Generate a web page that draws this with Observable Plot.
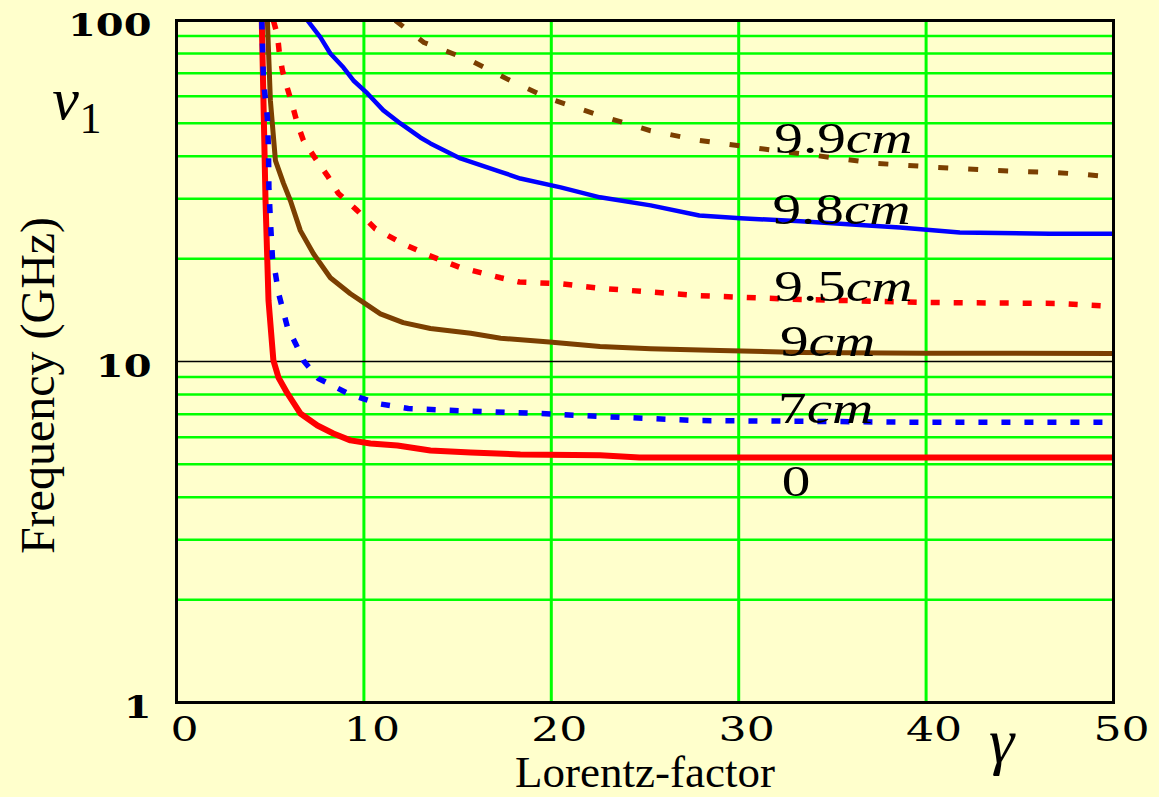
<!DOCTYPE html>
<html><head><meta charset="utf-8">
<script src="https://cdn.jsdelivr.net/npm/d3@7"></script>
<script src="https://cdn.jsdelivr.net/npm/@observablehq/plot@0.6"></script>
<style>
html,body{margin:0;padding:0;background:#FFFFCC;}
#chart svg{display:block;}
</style></head><body><div id="chart"></div>
<script>
// ---- axis ticks & grid ----
const xTicks = [0, 10, 20, 30, 40, 50];
const yTicks = [1, 10, 100];
const xGrid = [10, 20, 30, 40];
const yGrid = [2, 3, 4, 5, 6, 7, 8, 9, 20, 30, 40, 50, 60, 70, 80, 90];
const yDecade = [10];

// ---- curves: Lorentz factor (gamma) vs frequency nu1 (GHz) ----
// "0"
const gamma0 = [4.55, 4.64, 4.75, 4.91, 5.17, 5.44, 5.92, 6.61, 7.52, 8.37, 9.28, 10.35, 11.79, 13.55, 15.7, 18.35, 22.6, 24.7, 30, 40, 50];
const freq0  = [100, 58.3, 29.6, 15.1, 10.07, 8.98, 8.06, 7.04, 6.49, 6.15, 5.87, 5.75, 5.67, 5.48, 5.41, 5.34, 5.31, 5.23, 5.23, 5.23, 5.23];
// "7cm"
const gamma7 = [4.55, 4.64, 4.85, 4.91, 4.93, 5.01, 5.12, 5.28, 5.44, 5.92, 6.35, 6.77, 7.57, 9.17, 10.72, 12.37, 14.6, 19.4, 22.6, 27.9, 33.3, 40, 50];
const freq7  = [100, 66.7, 51.9, 41.6, 32.4, 25.9, 20.2, 18.1, 15.9, 12.6, 11.3, 10.07, 8.92, 8.05, 7.53, 7.28, 7.19, 7.04, 6.90, 6.71, 6.68, 6.63, 6.63];
// "9cm"
const gamma9 = [4.85, 5.01, 5.28, 5.71, 6.08, 6.61, 7.31, 8.21, 9.28, 9.97, 10.88, 12.1, 13.55, 15.7, 17.3, 19.9, 22.6, 25.3, 29, 33.3, 40, 50];
const freq9  = [100, 58.3, 38.8, 33.3, 29.6, 24.2, 20.7, 17.6, 15.8, 14.9, 13.8, 13.0, 12.5, 12.1, 11.7, 11.4, 11.07, 10.9, 10.77, 10.63, 10.58, 10.55];
// "9.5cm"
const gamma95 = [5.17, 5.39, 5.49, 5.65, 5.92, 6.19, 6.45, 6.77, 7.41, 8.05, 8.64, 9.65, 10.61, 12.05, 13.44, 15.1, 17.3, 18.3, 20.5, 22.6, 27.9, 33.3, 40, 47, 50];
const freq95  = [100, 90.4, 80, 71.4, 63.2, 56.3, 49.9, 44.5, 39.4, 35.1, 31.1, 27.7, 24.5, 22.2, 20.5, 18.9, 17.6, 17.1, 16.9, 16.4, 15.6, 15.2, 14.9, 14.8, 14.5];
// "9.8cm"
const gamma98 = [6.99, 7.68, 8.21, 8.91, 9.44, 10.19, 11.04, 11.95, 13.01, 13.55, 15.15, 17.3, 18.35, 20.5, 22.6, 25.3, 27.9, 30.1, 33.3, 38.6, 41.8, 46.6, 50];
const freq98  = [100, 89.2, 80, 72.8, 66.7, 61.1, 54.5, 49.9, 45.4, 43.6, 39.4, 36.0, 34.4, 32.4, 30.3, 28.7, 26.8, 26.3, 25.8, 24.7, 23.9, 23.7, 23.7];
// "9.9cm"
const gamma99 = [11.68, 13.2, 15.7, 17.8, 19.9, 22.6, 25.3, 27.9, 31.0, 34.1, 37.4, 40.6, 43.8, 47.0, 48.6, 50];
const freq99  = [100, 86.2, 76.3, 66.7, 59.0, 52.6, 47.5, 44.5, 42.2, 40.2, 38.1, 37.1, 36.3, 35.8, 35.3, 34.7];

// ---- curve labels ----
const labelText  = ["9.9cm", "9.8cm", "9.5cm", "9cm", "7cm", "0"];
const labelGamma = [31.9, 31.8, 31.9, 32.2, 32.1, 32.3];
const labelFreq  = [45.1, 27.9, 16.6, 11.45, 7.28, 4.45];

const rows = (g, v) => g.map((x, i) => ({gamma: x, freq: v[i]}));
const labels = labelText.map((t, i) => ({text: t, gamma: labelGamma[i], freq: labelFreq[i]}));

const serif = "'Liberation Serif', 'Times New Roman', serif";
const wide = "'DejaVu Serif', serif";

const chart = Plot.plot({
  width: 1159,
  height: 797,
  marginLeft: 176,
  marginRight: 46,
  marginTop: 20,
  marginBottom: 95,
  style: {background: "#FFFFCC", fontFamily: serif, color: "black"},
  x: {domain: [0, 50], axis: null},
  y: {type: "log", domain: [1, 100], axis: null},
  marks: [
    Plot.ruleY(yGrid, {stroke: "#00FF00", strokeWidth: 2.5}),
    Plot.ruleX(xGrid, {stroke: "#00FF00", strokeWidth: 3}),
    Plot.ruleY(yDecade, {stroke: "black", strokeWidth: 1.5}),
    Plot.line(rows(gamma99, freq99), {x: "gamma", y: "freq", stroke: "#7B3F00", strokeWidth: 5, strokeDasharray: "10,20", strokeLinecap: "butt", clip: true}),
    Plot.line(rows(gamma98, freq98), {x: "gamma", y: "freq", stroke: "#0000FF", strokeWidth: 4.5, clip: true}),
    Plot.line(rows(gamma95, freq95), {x: "gamma", y: "freq", stroke: "#FF0000", strokeWidth: 5.5, strokeDasharray: "9,14", strokeLinecap: "butt", clip: true}),
    Plot.line(rows(gamma9, freq9), {x: "gamma", y: "freq", stroke: "#7B3F00", strokeWidth: 5, clip: true}),
    Plot.line(rows(gamma0, freq0), {x: "gamma", y: "freq", stroke: "#FF0000", strokeWidth: 6, clip: true}),
    Plot.line(rows(gamma7, freq7), {x: "gamma", y: "freq", stroke: "#0000FF", strokeWidth: 5.5, strokeDasharray: "9,14", strokeLinecap: "butt", clip: true}),
    Plot.frame({stroke: "black", strokeWidth: 3}),
    // text mark 0: x tick labels
    Plot.text(xTicks, {x: d => d, text: d => String(d), frameAnchor: "bottom", textAnchor: "middle", lineAnchor: "top", dx: 8, dy: 14, fontSize: 34, fontFamily: wide, fill: "black"}),
    // text mark 1: y tick labels
    Plot.text(yTicks, {y: d => d, text: d => String(d), frameAnchor: "left", textAnchor: "end", lineAnchor: "middle", dx: -25, dy: 5, fontSize: 32, fontWeight: "bold", fontFamily: wide, fill: "black"}),
    // text mark 2: curve labels
    Plot.text(labels, {x: "gamma", y: "freq", text: "text", textAnchor: "start", lineAnchor: "middle", fontSize: 44, fontFamily: serif, fill: "black"}),
    Plot.text(["Frequency (GHz)"], {text: d => d, frameAnchor: "left", textAnchor: "middle", lineAnchor: "middle", rotate: -90, dx: -138, dy: 24, fontSize: 48, fontFamily: serif}),
    Plot.text(["Lorentz-factor"], {text: d => d, frameAnchor: "bottom", textAnchor: "middle", lineAnchor: "middle", dy: 70, fontSize: 45, fontFamily: serif}),
    Plot.text(["ν"], {text: d => d, frameAnchor: "top-left", textAnchor: "middle", lineAnchor: "middle", dx: -111, dy: 79, fontSize: 60, fontStyle: "italic", fontFamily: serif}),
    Plot.text(["1"], {text: d => d, frameAnchor: "top-left", textAnchor: "middle", lineAnchor: "middle", dx: -86, dy: 98, fontSize: 44, fontFamily: serif}),
    Plot.text(["γ"], {text: d => d, frameAnchor: "bottom-right", textAnchor: "middle", lineAnchor: "middle", dx: -112, dy: 39, fontSize: 64, fontStyle: "italic", fontFamily: serif})
  ]
});

document.getElementById("chart").appendChild(chart);

// The reference uses a horizontally stretched face for numbers: widen glyphs in place.
function widen(t, s) {
  const w = t.getComputedTextLength();
  if (w > 0) {
    t.setAttribute("textLength", (w * s).toFixed(1));
    t.setAttribute("lengthAdjust", "spacingAndGlyphs");
  }
}
try {
  const groups = chart.querySelectorAll('g[aria-label="text"]');
  if (groups[2]) groups[2].querySelectorAll("text").forEach(t => {
    const s = t.textContent;
    if (/cm$/.test(s)) {
      t.textContent = s.slice(0, -2);
      const ts = document.createElementNS("http://www.w3.org/2000/svg", "tspan");
      ts.setAttribute("font-style", "italic");
      ts.textContent = "cm";
      t.appendChild(ts);
    }
    widen(t, 1.3);
  });
  if (groups[0]) groups[0].querySelectorAll("text").forEach(t => widen(t, 1.3));
  if (groups[1]) groups[1].querySelectorAll("text").forEach(t => widen(t, 1.25));
} catch (e) { console.error(e); }
</script></body></html>
